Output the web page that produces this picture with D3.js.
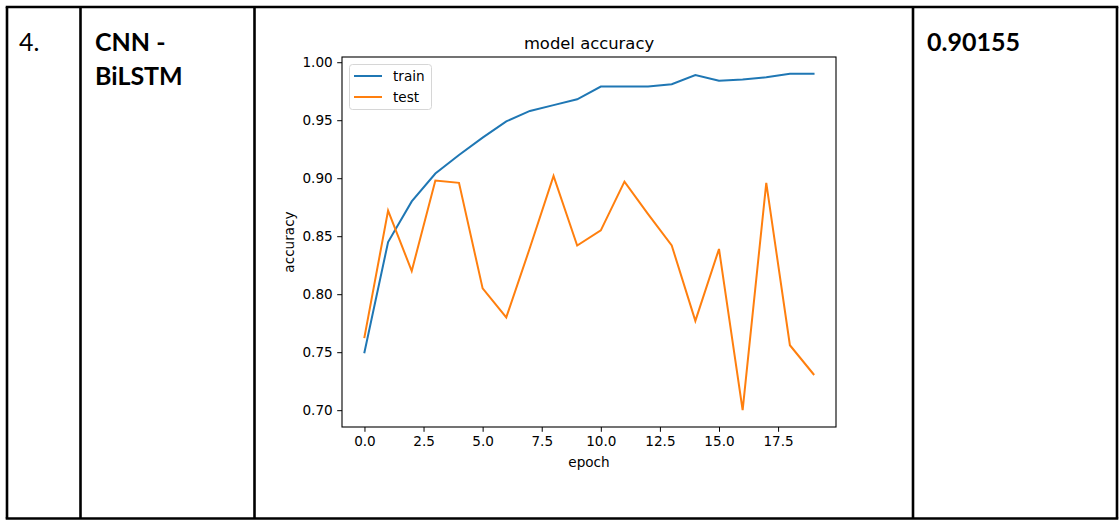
<!DOCTYPE html>
<html>
<head>
<meta charset="utf-8">
<script src="https://cdn.jsdelivr.net/npm/d3@7"></script>
<style>
  html, body { margin: 0; padding: 0; background: #fff; }
  svg { display: block; }
</style>
</head>
<body>
<svg id="chart" width="1120" height="520"></svg>
<script>
// ---- data ----
const epochs = d3.range(20);
const trainAcc = [0.750, 0.845, 0.880, 0.904, 0.920, 0.935, 0.949, 0.958, 0.963, 0.968,
                  0.979, 0.979, 0.979, 0.981, 0.989, 0.984, 0.985, 0.987, 0.990, 0.990];
const testAcc  = [0.763, 0.872, 0.820, 0.898, 0.896, 0.805, 0.780, 0.840, 0.902, 0.842,
                  0.855, 0.897, 0.869, 0.842, 0.777, 0.839, 0.700, 0.896, 0.756, 0.731];
const xTicks = [0.0, 2.5, 5.0, 7.5, 10.0, 12.5, 15.0, 17.5];
const yTicks = [0.70, 0.75, 0.80, 0.85, 0.90, 0.95, 1.00];
const seriesNames = ["train", "test"];
const seriesColors = ["#1f77b4", "#ff7f0e"];
const rowNumber = "4.";
const modelName = ["CNN -", "BiLSTM"];
const scoreText = "0.90155";
const chartTitle = "model accuracy";
const xLabel = "epoch";
const yLabel = "accuracy";

const svg = d3.select("#chart");

// ---- table frame ----
const tableFont = "Lato, 'Open Sans', sans-serif";
const colX = [7, 80.5, 254.5, 913, 1117];
const frameTop = 7, frameBottom = 518.5;
const frame = svg.append("g").attr("stroke", "#000").attr("stroke-width", 2.6);
frame.append("line").attr("x1", colX[0] - 1.3).attr("x2", colX[4] + 1.3).attr("y1", frameTop).attr("y2", frameTop);
frame.append("line").attr("x1", colX[0] - 1.3).attr("x2", colX[4] + 1.3).attr("y1", frameBottom).attr("y2", frameBottom);
colX.forEach(cx => frame.append("line").attr("x1", cx).attr("x2", cx).attr("y1", frameTop).attr("y2", frameBottom));

svg.append("text").attr("x", 19).attr("y", 51).attr("font-family", tableFont)
  .attr("font-size", 25).attr("fill", "#000").text(rowNumber);
modelName.forEach((t, i) => {
  svg.append("text").attr("x", 95).attr("y", 51 + i * 34).attr("font-family", tableFont)
    .attr("font-weight", "bold").attr("font-size", 25).attr("fill", "#000").text(t);
});
svg.append("text").attr("x", 927).attr("y", 51).attr("font-family", tableFont)
  .attr("font-weight", "bold").attr("font-size", 25).attr("fill", "#000").text(scoreText);

// ---- plot ----
const plotFont = "'DejaVu Sans', sans-serif";
const L = 342, R = 836, T = 57, B = 427;
const x = d3.scaleLinear().domain([-0.95, 19.95]).range([L, R]);
const y = d3.scaleLinear().domain([0.6855, 1.0045]).range([B, T]);

const gx = svg.append("g").attr("transform", `translate(0,${B})`)
  .call(d3.axisBottom(x).tickValues(xTicks).tickFormat(d3.format(".1f")).tickSize(4.8).tickPadding(4.5));
const gy = svg.append("g").attr("transform", `translate(${L},0)`)
  .call(d3.axisLeft(y).tickValues(yTicks).tickFormat(d3.format(".2f")).tickSize(4.8).tickPadding(4.5));
[gx, gy].forEach(g => {
  g.select(".domain").remove();
  g.selectAll(".tick line").attr("stroke", "#000").attr("stroke-width", 1);
  g.selectAll(".tick text").attr("font-family", plotFont).attr("font-size", 13.6).attr("fill", "#000");
});

const line = d3.line().x((d, i) => x(epochs[i])).y(d => y(d));
[trainAcc, testAcc].forEach((s, k) => {
  svg.append("path").datum(s).attr("d", line).attr("fill", "none")
    .attr("stroke", seriesColors[k]).attr("stroke-width", 2).attr("stroke-linejoin", "miter")
    .attr("stroke-linecap", "square");
});

svg.append("rect").attr("x", L).attr("y", T).attr("width", R - L).attr("height", B - T)
  .attr("fill", "none").attr("stroke", "#000").attr("stroke-width", 1.1);

// title and labels
svg.append("text").attr("x", (L + R) / 2).attr("y", 49).attr("text-anchor", "middle")
  .attr("font-family", plotFont).attr("font-size", 16.4).attr("fill", "#000").text(chartTitle);
svg.append("text").attr("x", (L + R) / 2).attr("y", 467).attr("text-anchor", "middle")
  .attr("font-family", plotFont).attr("font-size", 13.6).attr("fill", "#000").text(xLabel);
svg.append("text").attr("transform", `translate(294,${(T + B) / 2}) rotate(-90)`).attr("text-anchor", "middle")
  .attr("font-family", plotFont).attr("font-size", 13.6).attr("fill", "#000").text(yLabel);

// legend
const lg = svg.append("g");
lg.append("rect").attr("x", 349.5).attr("y", 64.5).attr("width", 82).attr("height", 45).attr("rx", 3)
  .attr("fill", "#fff").attr("fill-opacity", 0.8).attr("stroke", "#d6d6d6").attr("stroke-width", 1);
seriesNames.forEach((n, i) => {
  const yy = 76 + i * 21;
  lg.append("line").attr("x1", 354).attr("x2", 382).attr("y1", yy).attr("y2", yy)
    .attr("stroke", seriesColors[i]).attr("stroke-width", 2);
  lg.append("text").attr("x", 393).attr("y", yy + 5).attr("font-family", plotFont)
    .attr("font-size", 13.6).attr("fill", "#000").text(n);
});
</script>
</body>
</html>
